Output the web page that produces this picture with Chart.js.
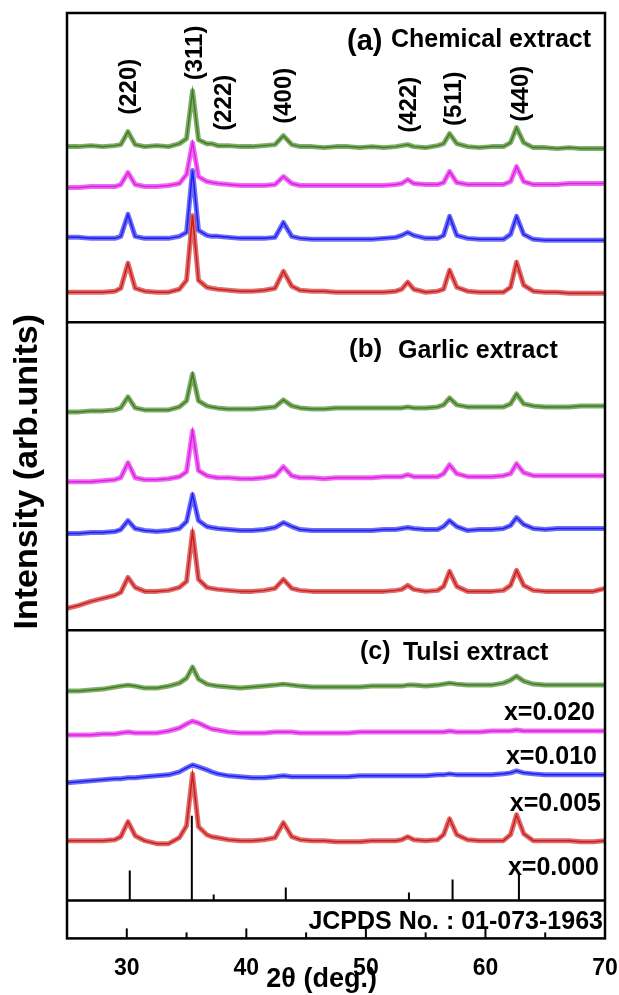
<!DOCTYPE html>
<html>
<head>
<meta charset="utf-8">
<script src="https://cdn.jsdelivr.net/npm/chart.js@4.4.1/dist/chart.umd.min.js"></script>
<style>
  html, body { margin: 0; padding: 0; background: #fff; }
  canvas { display: block; }
</style>
</head>
<body>
<canvas id="xrdChart" width="619" height="995"></canvas>
<script>
// 2theta grid (deg) shared by all patterns
const twoTheta = [25, 26, 27, 28, 29, 29.5, 30.1, 30.7, 31.5, 32.5, 33.5, 34.4, 35.0, 35.5, 36.0, 36.7,
  37.1, 37.6, 38.5, 39.5, 40.5, 41.5, 42.4, 43.1, 43.8, 44.5, 45.5, 46.5, 47.5, 48.5, 49.5, 50.5,
  51.5, 52.5, 53.0, 53.5, 54.0, 55.0, 56.0, 56.5, 57.0, 57.6, 58.5, 59.5, 60.5, 61.5, 62.1, 62.6,
  63.2, 64, 65, 66, 67, 68, 69, 70];

// (a) chemical extract, intensity above each pattern's own baseline
const chemX000 = [0, 0, 0, 0, 1, 4, 29, 4, 1, 0, 0, 3, 12, 77, 12, 5, 4, 3, 2, 1, 1, 2, 4, 21, 6, 2, 1, 1, 0, 0, 0, 0,
  0, 1, 3, 10, 3, 0, 1, 3, 22, 5, 1, 0, 0, 0, 5, 30, 7, 1, 0, 0, -1, -1, -1, -1];
const chemX005 = [1, 1, 0, 0, 0, 2, 24, 2, 0, 0, 0, 2, 6, 68, 8, 3, 2, 2, 1, 0, 0, 0, 1, 16, 2, 0, -1, -1, -1, -1, -1, -1,
  0, 1, 3, 6, 3, 0, 0, 3, 22, 3, 0, -1, -1, -1, 4, 22, 4, -1, -2, -2, -2, -2, -2, -2];
const chemX010 = [-1, -1, 0, 0, 0, 2, 14, 2, 0, 0, 1, 3, 12, 44, 10, 5, 4, 3, 2, 1, 1, 1, 2, 10, 3, 1, 1, 1, 1, 1, 1, 1,
  1, 2, 3, 7, 3, 2, 2, 4, 15, 4, 2, 2, 2, 2, 5, 20, 5, 2, 2, 2, 3, 3, 3, 3];
const chemX020 = [0, 0, 1, 0, 1, 2, 15, 2, 0, 1, 0, 3, 8, 56, 7, 3, 3, 1, 1, 0, 0, 1, 2, 11, 2, 0, 0, -1, 0, 0, -1, 0,
  -1, 0, 1, 2, 0, -1, 1, 3, 13, 3, 0, -1, 0, 0, 4, 19, 4, -1, -1, -2, -1, -2, -2, -2];

// (b) garlic extract
const garlicX000 = [-17, -14, -10, -7, -4, -1, 14, 4, 0, 0, 1, 4, 10, 60, 12, 4, 3, 2, 1, 0, 0, 1, 3, 12, 3, 1, 0, 0, 0, 0, 0, 0,
  0, 1, 2, 6, 2, 0, 1, 5, 20, 5, 0, 0, 0, 1, 6, 21, 6, 1, 0, 0, 0, 0, 0, 3];
const garlicX005 = [-3, -3, -2, -2, -1, 1, 10, 2, 0, -1, 0, 2, 9, 36, 10, 4, 3, 2, 1, 0, 0, 1, 3, 8, 4, 1, 0, 0, 0, 0, 0, 0,
  1, 1, 2, 3, 2, 1, 1, 4, 10, 4, 0, 1, 1, 2, 5, 13, 6, 2, 1, 2, 2, 2, 2, 2];
const garlicX010 = [-3, -3, -3, -2, -1, 1, 16, 1, -1, -1, 0, 2, 7, 48, 8, 3, 2, 1, 1, 0, 0, 1, 3, 12, 3, 1, 1, 0, 1, 1, 1, 1,
  2, 2, 2, 4, 2, 2, 2, 5, 14, 5, 2, 2, 2, 3, 5, 15, 6, 3, 3, 3, 3, 3, 3, 3];
const garlicX020 = [-3, -3, -2, -2, -1, 1, 12, 1, -1, -1, -1, 2, 8, 35, 8, 3, 2, 1, 0, 0, 0, 1, 2, 9, 3, 1, 0, 0, 1, 1, 1, 1,
  1, 1, 1, 2, 1, 1, 2, 4, 11, 4, 2, 2, 2, 2, 5, 15, 5, 3, 2, 2, 2, 3, 3, 3];

// (c) tulsi extract
const tulsiX000 = [0, 0, 0, 0, 1, 4, 19, 5, 0, -3, -3, 3, 15, 67, 14, 6, 4, 3, 1, 0, 0, 1, 3, 18, 4, 1, 0, 0, -1, -1, -1, 0,
  0, 0, 1, 4, 1, 0, 1, 6, 22, 6, 1, 0, 0, 0, 6, 26, 7, 0, 0, 0, 0, -1, -1, 0];
const tulsiX005 = [-6, -5, -4, -3, -2, -2, -1, -1, 0, 1, 2, 5, 9, 12, 10, 7, 5, 3, 1, 0, -1, -1, 0, 1, 0, 0, 0, 0, 0, 0, 1, 1,
  1, 1, 1, 1, 1, 1, 2, 2, 3, 2, 2, 2, 2, 3, 4, 6, 4, 3, 2, 2, 2, 2, 2, 2];
const tulsiX010 = [-2, -2, -2, -1, -1, 0, 1, 0, 0, 0, 2, 5, 9, 12, 10, 6, 4, 3, 1, 0, 0, 0, 1, 1, 1, 0, 0, 0, 0, 0, 1, 1,
  1, 1, 1, 1, 1, 1, 1, 1, 2, 1, 1, 1, 2, 2, 2, 3, 2, 2, 2, 2, 2, 2, 2, 2];
const tulsiX020 = [-3, -3, -2, -1, 1, 2, 3, 2, 0, 0, 2, 5, 10, 21, 9, 4, 3, 2, 1, 0, 1, 2, 3, 4, 3, 2, 1, 1, 1, 1, 1, 2,
  2, 2, 2, 3, 3, 2, 3, 4, 5, 4, 3, 3, 3, 5, 8, 12, 7, 4, 3, 3, 3, 3, 3, 3];

// vertical stacking offsets, order x=0.000, 0.005, 0.010, 0.020
const chemOffsets = [648, 702, 754, 794];
const garlicOffsets = [348, 409, 461, 531];
const tulsiOffsets = [98, 162, 206, 251];

// JCPDS 01-073-1963 reference lines
const jcpdsPos = [30.25, 35.44, 37.27, 43.3, 53.6, 57.25, 62.8];
const jcpdsInt = [30, 85, 6, 13, 8, 21, 26];
const jcpdsBase = 38;

const millerLabels = ['(220)', '(311)', '(222)', '(400)', '(422)', '(511)', '(440)'];
const compositions = ['x=0.000', 'x=0.005', 'x=0.010', 'x=0.020'];
const majorTicks = [30, 40, 50, 60, 70];
const minorTicks = [35, 45, 55, 65];

const colors = ['#cc1f1f', '#1f1ff0', '#e01ee6', '#3f7f1f'];
const bands = ['rgba(204,31,31,0.65)', 'rgba(31,31,240,0.65)', 'rgba(224,30,230,0.65)', 'rgba(63,127,31,0.65)'];

const FONT = '"Liberation Sans", Arial, sans-serif';

function toPoints(values, offset) {
    return twoTheta.map((t, i) => ({ x: t, y: values[i] + offset }));
}

const patterns = [
    [chemX000, chemX005, chemX010, chemX020, chemOffsets],
    [garlicX000, garlicX005, garlicX010, garlicX020, garlicOffsets],
    [tulsiX000, tulsiX005, tulsiX010, tulsiX020, tulsiOffsets]
];

const datasets = [];
patterns.forEach(p => {
    for (let k = 0; k < 4; k++) {
        const pts = toPoints(p[k], p[4][k]);
        datasets.push({ data: pts, borderColor: colors[k], borderWidth: 1.5, pointRadius: 0, tension: 0 });
        datasets.push({ data: pts, borderColor: bands[k], borderWidth: 5, pointRadius: 0, tension: 0,
            borderJoinStyle: 'round' });
    }
});

const stickPoints = [];
jcpdsPos.forEach((p, i) => {
    stickPoints.push({ x: p, y: jcpdsBase }, { x: p, y: jcpdsBase + jcpdsInt[i] }, { x: p, y: null });
});
datasets.push({ data: stickPoints, borderColor: '#000', borderWidth: 2, pointRadius: 0, spanGaps: false,
    borderCapStyle: 'butt' });

// frame, panel dividers, inward ticks and the text labels
const decorations = {
    id: 'decorations',
    afterDraw(chart, args, opts) {
        const { ctx, chartArea: a, scales: { x, y } } = chart;
        ctx.save();
        ctx.strokeStyle = '#000';
        ctx.lineWidth = 2.5;
        ctx.strokeRect(a.left, a.top, a.right - a.left, a.bottom - a.top);
        opts.dividers.forEach(v => {
            const py = y.getPixelForValue(v);
            ctx.beginPath();
            ctx.moveTo(a.left, py);
            ctx.lineTo(a.right, py);
            ctx.stroke();
        });
        ctx.lineWidth = 2;
        majorTicks.concat(minorTicks).forEach(t => {
            const px = x.getPixelForValue(t);
            const len = majorTicks.includes(t) ? 10 : 6;
            ctx.beginPath();
            ctx.moveTo(px, a.bottom);
            ctx.lineTo(px, a.bottom - len);
            ctx.stroke();
        });

        ctx.fillStyle = '#000';
        ctx.textBaseline = 'alphabetic';
        opts.texts.forEach(t => {
            ctx.font = 'bold ' + t.size + 'px ' + FONT;
            ctx.textAlign = t.align || 'left';
            ctx.fillText(t.text, x.getPixelForValue(t.x), y.getPixelForValue(t.y));
        });

        ctx.font = 'bold 24px ' + FONT;
        ctx.textAlign = 'center';
        ctx.textBaseline = 'middle';
        millerLabels.forEach((m, i) => {
            ctx.save();
            ctx.translate(x.getPixelForValue(opts.millerX[i]), y.getPixelForValue(opts.millerY[i]));
            ctx.rotate(-Math.PI / 2);
            ctx.fillText(m, 0, 0);
            ctx.restore();
        });

        // axis titles
        ctx.font = 'bold 34px ' + FONT;
        ctx.save();
        ctx.translate(a.left - 39, y.getPixelForValue(468));
        ctx.rotate(-Math.PI / 2);
        ctx.fillText('Intensity (arb.units)', 0, 0);
        ctx.restore();
        ctx.font = 'bold 27px ' + FONT;
        ctx.textBaseline = 'alphabetic';
        ctx.fillText('2\u03B8 (deg.)', x.getPixelForValue(46.3), a.bottom + 49);
        ctx.restore();
    }
};

new Chart(document.getElementById('xrdChart'), {
    type: 'line',
    data: { datasets: datasets },
    plugins: [decorations],
    options: {
        responsive: false,
        animation: false,
        devicePixelRatio: 1,
        layout: { padding: { left: 67, right: 14, top: 13, bottom: 5 } },
        plugins: {
            legend: { display: false },
            tooltip: { enabled: false },
            decorations: {
                dividers: [618, 309, 38],
                millerX: [30.23, 35.71, 38.13, 43.15, 53.6, 57.37, 62.97],
                millerY: [854, 888, 838, 845, 836, 842, 847],
                texts: [
                    { text: '(a)', x: 48.42, y: 891, size: 29 },
                    { text: 'Chemical extract', x: 52.1, y: 894, size: 25 },
                    { text: '(b)', x: 48.59, y: 583, size: 26 },
                    { text: 'Garlic extract', x: 52.68, y: 582, size: 25 },
                    { text: '(c)', x: 49.5, y: 280, size: 25 },
                    { text: 'Tulsi extract', x: 53.1, y: 279, size: 25 },
                    { text: compositions[3], x: 69.16, y: 219, size: 25, align: 'right' },
                    { text: compositions[2], x: 69.33, y: 175, size: 25, align: 'right' },
                    { text: compositions[1], x: 69.66, y: 128, size: 25, align: 'right' },
                    { text: compositions[0], x: 69.5, y: 64, size: 25, align: 'right' },
                    { text: 'JCPDS No. : 01-073-1963', x: 69.83, y: 9, size: 25, align: 'right' }
                ]
            }
        },
        scales: {
            x: {
                type: 'linear',
                min: 25,
                max: 70,
                afterBuildTicks: scale => { scale.ticks = majorTicks.map(v => ({ value: v })); },
                afterFit: scale => { scale.paddingLeft = 0; scale.paddingRight = 0; },
                ticks: { color: '#000', padding: 8, font: { family: FONT, size: 23, weight: 'bold' } },
                grid: { display: false },
                border: { display: false }
            },
            y: { min: 0, max: 928, display: false }
        }
    }
});
</script>
</body>
</html>
